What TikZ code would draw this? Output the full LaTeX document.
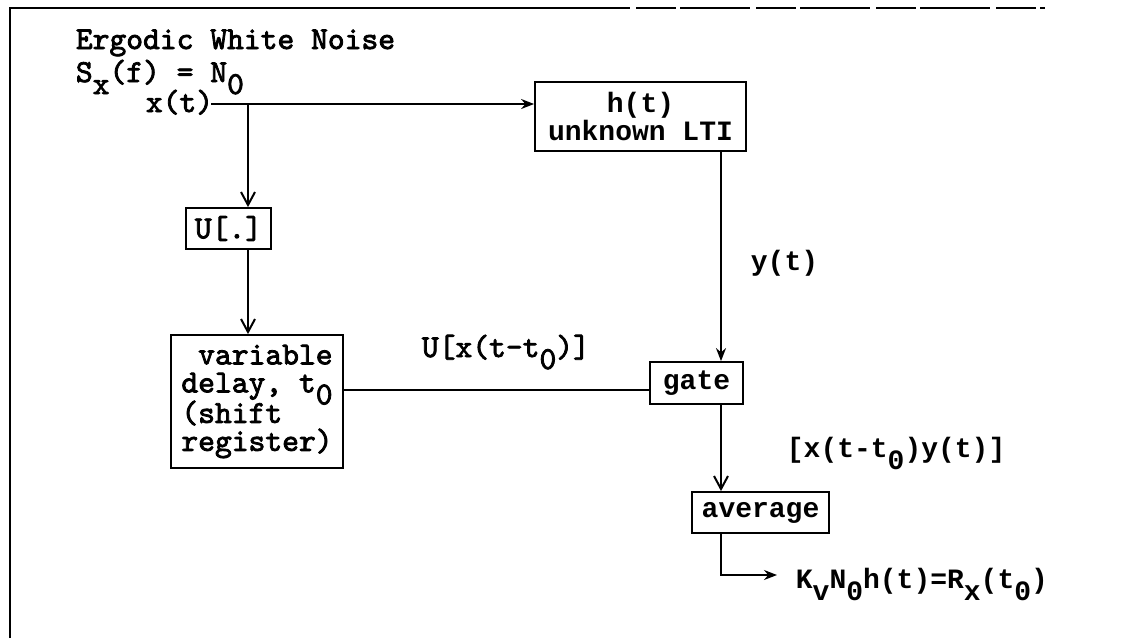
\documentclass[tikz,border=0pt]{standalone}
\usepackage{fontspec}
\setmainfont{Liberation Mono}
\newfontfamily\courfam{lmmono10-regular.otf}[FakeBold=2.5]
\usetikzlibrary{arrows.meta}
\newcommand{\lowr}[1]{\raisebox{-12pt}[0pt][0pt]{#1}}
\newcommand{\cour}{\courfam\fontsize{32}{28}\selectfont}
\begin{document}
\begin{tikzpicture}[x=1pt,y=-1pt,
  font=\bfseries\fontsize{28}{28}\selectfont,
  line width=1.8pt,
  boxst/.style={draw, line width=1.8pt, inner sep=0pt},
  txt/.style={inner sep=0pt, anchor=base west},
  ctxt/.style={txt, font=\cour},
  barb/.tip={Straight Barb[length=13pt,width=14pt,line width=2pt]},
  stl/.tip={Stealth[length=13pt,width=10pt]}]
\useasboundingbox (0,0) rectangle (1129,638);
% frame
\draw[line width=1.8pt] (10,638) -- (10,8) -- (560,8);
\draw[line width=1.3pt, dash pattern=on 70pt off 6pt on 40pt off 4pt] (560,8) -- (1045,8);
% texts
\node[ctxt] (ergo) at (75,49) {Ergodic White Noise};
\node[ctxt] (sx) at (75,82) {S\lowr{x}(f) = N\lowr{0}};
\node[ctxt] (xt) at (145,112) {x(t)};
% boxes
\node[boxst, minimum width=211pt, minimum height=69pt, align=center] (h) at (640.5,116.5) {h(t)\\unknown LTI};
\node[boxst, minimum width=85pt, minimum height=41pt, font=\cour] (U) at (228.5,228.5) {U[.]};
\node[boxst, minimum width=172pt, minimum height=133pt, align=left, font=\cour] (delay) at (257,401.5) {\hspace*{0.525em}variable\\delay, t\lowr{0}\\(shift\\register)};
\node[boxst, minimum width=93pt, minimum height=42pt] (gate) at (696.5,383) {gate};
\node[boxst, minimum width=137pt, minimum height=41pt] (avg) at (760.5,512.5) {average};
% labels
\node[txt] (yt) at (750,270) {y(t)};
\node[ctxt] (ux) at (421,357) {U[x(t-t\lowr{0})]};
\node[txt] (xy) at (786,457) {[x(t-t\lowr{0})y(t)]};
\node[txt] (kv) at (795,588) {K\lowr{v}N\lowr{0}h(t)=R\lowr{x}(t\lowr{0})};
% connectors
\coordinate (xs) at (211,104);
\coordinate (j) at (248,104);
\coordinate (vx) at (721,0);
\coordinate (gl) at ([yshift=-7pt]gate.west);
\coordinate (oc) at (777,575);
\draw[-stl] (xs) -- (xs -| h.west);
\draw[-barb] (j) -- (j |- U.north);
\draw[-barb] (U.south -| j) -- (j |- delay.north);
\draw (gl -| delay.east) -- (gl);
\draw[-stl] (h.south -| vx) -- (gate.north -| vx);
\draw[-barb] (gate.south -| vx) -- (avg.north -| vx);
\draw[-stl] (avg.south -| vx) |- (oc);
\end{tikzpicture}
\end{document}
